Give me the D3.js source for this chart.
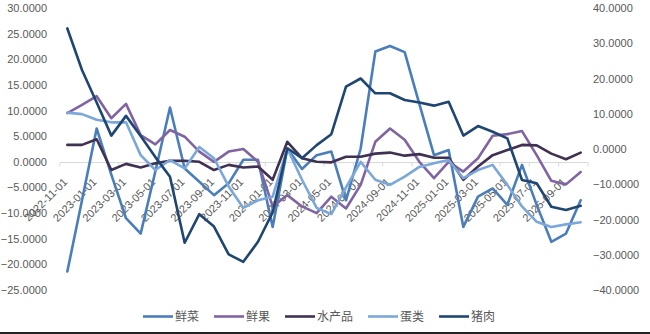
<!DOCTYPE html>
<html><head><meta charset="utf-8">
<script src="https://cdn.jsdelivr.net/npm/d3@7/dist/d3.min.js"></script>
<style>
html,body{margin:0;padding:0;background:#fff;}
svg{display:block;}
</style></head>
<body>
<svg id="chart" width="650" height="334"></svg>
<script>
// ---- data ----
const months = ["2022-11-01","2022-12-01","2023-01-01","2023-02-01","2023-03-01","2023-04-01","2023-05-01","2023-06-01","2023-07-01","2023-08-01","2023-09-01","2023-10-01","2023-11-01","2023-12-01","2024-01-01","2024-02-01","2024-03-01","2024-04-01","2024-05-01","2024-06-01","2024-07-01","2024-08-01","2024-09-01","2024-10-01","2024-11-01","2024-12-01","2025-01-01","2025-02-01","2025-03-01","2025-04-01","2025-05-01","2025-06-01","2025-07-01","2025-08-01","2025-09-01","2025-10-01"];
const veg   = [-21.4,-7.5,6.5,-2.5,-11.0,-14.0,-1.9,10.6,-1.3,-3.9,-6.5,-4.2,0.4,0.4,-12.7,2.6,-1.4,1.3,2.0,-7.5,2.6,21.5,22.6,21.4,11.3,1.3,2.3,-12.7,-6.8,-5.2,-8.4,-0.6,-8.4,-15.6,-14.0,-7.5];
const fruit = [9.5,11.1,12.8,8.5,11.3,5.2,3.4,6.2,4.9,2.0,0.0,2.0,2.5,0.0,-8.7,-6.5,-8.7,-10.0,-6.8,-9.1,-4.5,3.9,6.5,4.3,0.0,-3.2,0.0,-1.9,0.7,5.1,5.4,6.0,1.3,-3.7,-4.4,-2.0];
const aquatic = [3.3,3.3,4.4,-1.6,-0.4,-1.1,-0.3,0.2,0.2,0.0,-1.6,-0.6,-1.1,-0.9,-3.5,3.9,0.7,0.0,-0.1,1.0,1.0,1.6,1.8,1.2,1.5,0.8,0.8,-3.5,-0.9,1.3,2.3,3.3,3.2,1.6,0.5,1.8];
const egg   = [9.6,9.3,8.2,7.7,7.7,1.3,-1.6,0.35,-1.3,2.9,0.7,-4.8,-9.0,-7.5,-6.8,2.6,-3.5,-9.0,-10.2,-5.0,0.0,-3.5,-4.5,-2.9,-1.0,-0.3,0.35,-3.2,-1.6,-0.6,-4.5,-8.7,-11.7,-12.7,-12.2,-11.8];
const pork  = [34.2,22.4,13.2,3.8,9.4,3.7,-2.3,-7.9,-26.6,-18.5,-22.0,-29.9,-32.0,-26.3,-18.0,0.2,-2.6,1.1,4.2,17.7,20.0,15.8,15.8,13.9,13.2,12.3,13.4,3.8,6.5,4.9,3.0,-8.8,-9.7,-16.4,-17.3,-16.1];
const seriesNames = ["鲜菜","鲜果","水产品","蛋类","猪肉"];
const seriesColors = ["#4A7EBB","#8064A2","#403152","#7BA7DA","#1F4673"];
const leftTicks = [-25,-20,-15,-10,-5,0,5,10,15,20,25,30];
const rightTicks = [-40,-30,-20,-10,0,10,20,30,40];

// ---- build ----
const svg = d3.select("#chart");
const x = d3.scaleBand().domain(months).range([60, 588]);
const yL = d3.scaleLinear().domain([-25, 30]).range([290, 8]);
const yR = d3.scaleLinear().domain([-40, 40]).range([290, 8]);
const fmt = d3.format(".4f");
const txtCol = "#595959";
const font = "'Liberation Sans', Arial, sans-serif";

// left axis labels
const gl = svg.append("g").attr("transform","translate(47,0)")
  .call(d3.axisLeft(yL).tickValues(leftTicks).tickFormat(fmt).tickSize(0).tickPadding(0));
gl.select(".domain").remove();
gl.selectAll("text").attr("fill",txtCol).style("font-family",font).style("font-size","11px");

// right axis labels
const gr = svg.append("g").attr("transform","translate(593,0)")
  .call(d3.axisRight(yR).tickValues(rightTicks).tickFormat(fmt).tickSize(0).tickPadding(0));
gr.select(".domain").remove();
gr.selectAll("text").attr("fill",txtCol).style("font-family",font).style("font-size","11px");

// category axis (crosses at left 0)
const y0 = Math.round(yL(0)) + 0.5;
svg.append("line").attr("x1",x.range()[0]).attr("x2",x.range()[1])
  .attr("y1",y0).attr("y2",y0).attr("stroke","#D9D9D9").attr("stroke-width",1);
const tickIdx = d3.range(0, months.length + 1, 2);
svg.selectAll(".xtick").data(tickIdx).join("line")
  .attr("x1",d => x.range()[0] + d * x.step()).attr("x2",d => x.range()[0] + d * x.step())
  .attr("y1",y0).attr("y2",y0 + 4).attr("stroke","#D9D9D9");
const labelMonths = months.filter((m,i) => i % 2 === 0);
svg.selectAll(".xlab").data(labelMonths).join("text")
  .attr("transform", d => `translate(${x(d) + x.bandwidth()/2 - 2},180) rotate(-45)`)
  .attr("text-anchor","end").attr("dy","0.35em")
  .attr("fill",txtCol).style("font-family",font).style("font-size","11px")
  .text(d => d);

// lines
const seriesData = [veg, fruit, aquatic, egg, pork];
const scales = [yL, yL, yL, yL, yR];
seriesData.forEach((vals, k) => {
  const line = d3.line()
    .x((d,i) => x(months[i]) + x.bandwidth()/2)
    .y(d => scales[k](d));
  svg.append("path").datum(vals)
    .attr("d", line).attr("fill","none")
    .attr("stroke", seriesColors[k]).attr("stroke-width",2.6)
    .attr("stroke-linejoin","round").attr("stroke-linecap","round");
});

// legend
const lg = svg.append("g");
let lx = 143;
const ly = 316.5;
seriesNames.forEach((name, k) => {
  lg.append("line").attr("x1",lx).attr("x2",lx+30).attr("y1",ly).attr("y2",ly)
    .attr("stroke",seriesColors[k]).attr("stroke-width",2.6);
  const t = lg.append("text").attr("x",lx+32).attr("y",ly).attr("dy","0.36em")
    .attr("fill",txtCol).style("font-family","'Noto Sans CJK SC', sans-serif").style("font-size","12px")
    .text(name);
  lx = lx + 32 + t.node().getComputedTextLength() + 15;
});

// bottom border
svg.append("line").attr("x1",0).attr("x2",650).attr("y1",333).attr("y2",333)
  .attr("stroke","#222").attr("stroke-width",2);
</script>
</body></html>
